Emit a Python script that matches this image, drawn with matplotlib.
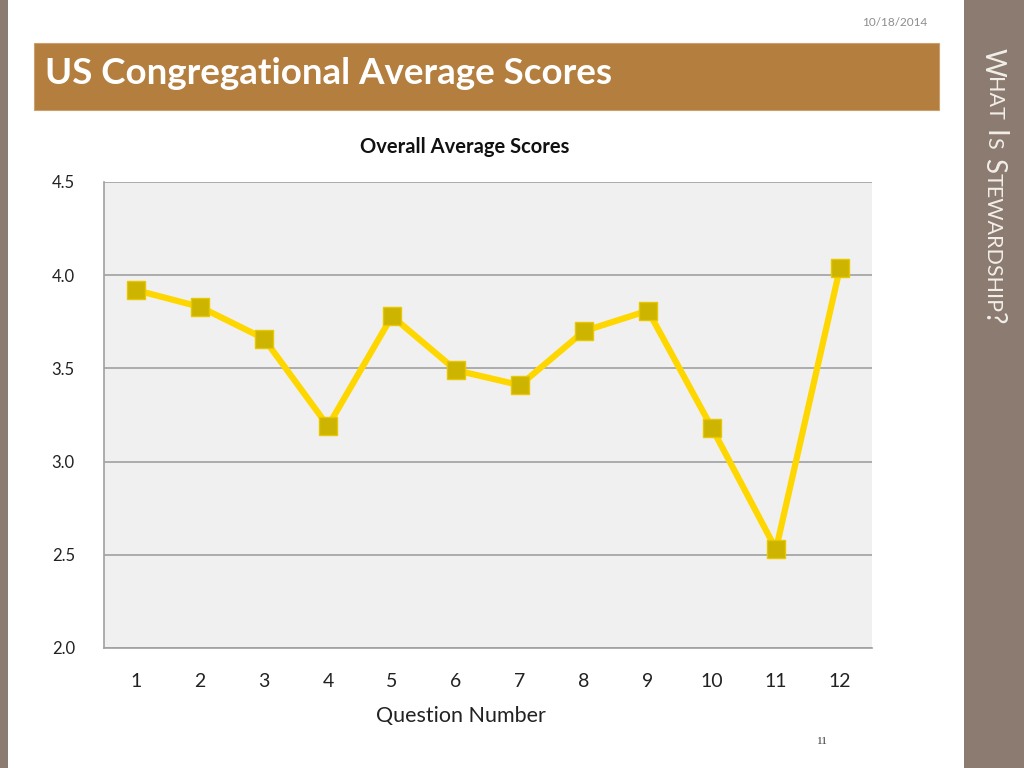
import matplotlib
matplotlib.use("Agg")
import matplotlib.pyplot as plt
from matplotlib.patches import Rectangle

questions = [1, 2, 3, 4, 5, 6, 7, 8, 9, 10, 11, 12]
scores = [3.92, 3.83, 3.66, 3.19, 3.78, 3.49, 3.41, 3.70, 3.81, 3.18, 2.53, 4.04]
y_ticks = [2.0, 2.5, 3.0, 3.5, 4.0, 4.5]

plt.rcParams['font.family'] = ['Lato', 'DejaVu Sans']

W, H = 1024, 768
fig = plt.figure(figsize=(W / 100, H / 100), dpi=100)
fig.patch.set_facecolor('white')

def fx(px):
    return px / W

def fy(py):
    return 1 - py / H

# left strip and right sidebar
fig.patches.append(Rectangle((0, 0), fx(8), 1, transform=fig.transFigure,
                             facecolor='#8B7B70', edgecolor='none'))
fig.patches.append(Rectangle((fx(964), 0), fx(W - 964), 1, transform=fig.transFigure,
                             facecolor='#8B7B70', edgecolor='none'))
# title bar
fig.patches.append(Rectangle((fx(34), fy(110)), fx(939 - 34), (110 - 43) / H,
                             transform=fig.transFigure, facecolor='#B47E3E',
                             edgecolor='#C9A070', linewidth=0.8))
fig.text(fx(45), fy(74), 'US Congregational Average Scores', color='white',
         fontsize=26.5, fontweight='bold', va='center', ha='left')
fig.text(fx(927), fy(22), '10/18/2014', color='#8C8C8C', fontsize=8.5,
         ha='right', va='center')
fig.text(fx(822), fy(742), '11', color='#333333', fontsize=8,
         ha='center', va='center', family='Liberation Serif')

# sidebar small-caps vertical text
pieces = [('W', 20, 0), ('HAT', 15.5, 9), ('I', 20, 0), ('S', 15.5, 9),
          ('S', 20, 0), ('TEWARDSHIP', 15.5, 0), ('?', 20, 0)]
renderer = fig.canvas.get_renderer()
ypos = 48
for txt, sz, gap in pieces:
    t = fig.text(fx(993), fy(ypos), txt, color='#F2EEE8', fontsize=sz,
                 rotation=-90, ha='center', va='top', rotation_mode='default')
    bb = t.get_window_extent(renderer=renderer)
    ypos += bb.height + gap

ax = fig.add_axes([fx(104), fy(648), fx(872 - 104), (648 - 182) / H])
ax.set_facecolor('#F0F0F0')
ax.plot(questions, scores, color='#FFD700', linewidth=4.5, marker='s',
        markersize=13, markerfacecolor='#CCB400', markeredgecolor='#E8C800',
        markeredgewidth=1, zorder=3)
ax.set_xlim(0.5, 12.5)
ax.set_ylim(2.0, 4.5)
ax.set_yticks(y_ticks)
ax.set_yticklabels([f'{v:.1f}' for v in y_ticks], fontsize=12)
ax.set_xticks(questions)
ax.set_xticklabels([str(q) for q in questions], fontsize=14)
ax.tick_params(axis='y', length=0, pad=21, colors='#222222')
ax.tick_params(axis='x', length=0, pad=18, colors='#222222')
ax.grid(axis='y', color='#A0A0A0', linewidth=1.2, zorder=1)
ax.set_axisbelow(True)
for s in ['top', 'right']:
    ax.spines[s].set_visible(False)
ax.spines['left'].set_color('#A0A0A0')
ax.spines['left'].set_linewidth(1.2)
ax.spines['bottom'].set_color('#A0A0A0')
ax.spines['bottom'].set_linewidth(1.2)
ax.set_xlabel('Question Number', fontsize=15.5, color='#222222')
ax.xaxis.set_label_coords((461 - 104) / 768, -(716 - 648) / 466)
ax.xaxis.label.set_va('center')
ax.set_title('Overall Average Scores', fontsize=14.5, fontweight='bold',
             color='#111111', x=(465 - 104) / 768, y=1 + (182 - 147) / 466,
             va='center', pad=0)

fig.savefig('out.png', dpi=100)
